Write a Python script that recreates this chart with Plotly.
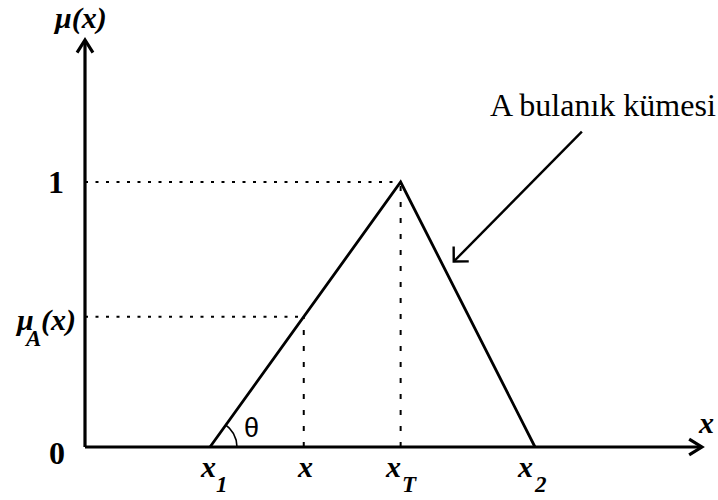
import numpy as np
import plotly.graph_objects as go

# Triangular membership function of the fuzzy set A
x1, xT, x2 = 2.0, 5.05, 7.2          # left foot, peak, right foot
peak_mu = 1.0
x_sample = 3.5                       # sample point x
x_axis_end, y_axis_end = 9.87, 1.536 # arrow tips of the axes
label_arrow_tail = (7.95, 1.19)      # "A bulanık kümesi" pointer
label_arrow_tip = (5.90, 0.70)

tri_x = [x1, xT, x2]
tri_y = [0.0, peak_mu, 0.0]


def mu(v):
    if v <= x1 or v >= x2:
        return 0.0
    if v <= xT:
        return (v - x1) / (xT - x1)
    return (x2 - v) / (x2 - xT)


mu_sample = mu(x_sample)

X_RANGE = [-1.36, 10.128]
Y_RANGE = [-0.2, 1.6868]
W, H = 718, 500
px_x = W / (X_RANGE[1] - X_RANGE[0])
px_y = H / (Y_RANGE[1] - Y_RANGE[0])

SERIF = "Liberation Serif"
fig = go.Figure()


def line(xs, ys, width, dash=None):
    fig.add_trace(go.Scatter(x=xs, y=ys, mode="lines",
                             line=dict(color="black", width=width, dash=dash),
                             hoverinfo="skip", showlegend=False))


def arrow(tail, tip, width, arm_px, half_angle_deg):
    """Shaft plus an open chevron head, with the head sized in screen pixels."""
    line([tail[0], tip[0]], [tail[1], tip[1]], width)
    dx = (tip[0] - tail[0]) * px_x
    dy = (tip[1] - tail[1]) * px_y
    n = np.hypot(dx, dy)
    ux, uy = dx / n, dy / n
    a = np.radians(half_angle_deg)
    xs, ys = [], []
    for s in (1, -1):
        c, si = np.cos(s * a), np.sin(s * a)
        rx, ry = ux * c - uy * si, ux * si + uy * c
        xs.append(tip[0] - arm_px * rx / px_x)
        ys.append(tip[1] - arm_px * ry / px_y)
    line([xs[0], tip[0], xs[1]], [ys[0], tip[1], ys[1]], width)


# axes
arrow((0, 0), (x_axis_end, 0), 3.2, 15, 32)
arrow((0, 0), (0, y_axis_end), 3.2, 15, 32)

# triangle
line(tri_x, tri_y, 2.8)

# dotted guide lines
H_DOT = "3px,7.5px"
V_DOT = "5px,11px"
line([0, xT], [peak_mu, peak_mu], 2, H_DOT)
line([xT, xT], [0, peak_mu], 2, V_DOT)
line([0, x_sample], [mu_sample, mu_sample], 2, H_DOT)
line([x_sample, x_sample], [0, mu_sample], 2, V_DOT)

# angle arc at the left foot (radius in screen pixels)
r_px = 27
theta_max = np.arctan2(peak_mu * px_y, (xT - x1) * px_x)
t = np.linspace(0, theta_max, 40)
line(x1 + r_px * np.cos(t) / px_x, r_px * np.sin(t) / px_y, 1.6)

# pointer to the fuzzy set
arrow(label_arrow_tail, label_arrow_tip, 2.4, 15, 45)

ann = []


def text(x, y, s, font, xanchor="center", yanchor="middle", dx=0, dy=0):
    ann.append(dict(x=x, y=y, xref="x", yref="y", text=s, showarrow=False,
                    xanchor=xanchor, yanchor=yanchor, xshift=dx, yshift=dy, font=font))


text(label_arrow_tail[0], label_arrow_tail[1], "A bulanık kümesi",
     dict(family=SERIF, size=32, color="black"), dx=21, dy=27)

lab_font = dict(family=SERIF, size=30, color="black", weight="bold", style="italic")
sub_font = dict(family=SERIF, size=23, color="black", weight="bold", style="italic")
num_font = dict(family=SERIF, size=32, color="black", weight="bold")

# y-axis labels
text(0, y_axis_end, "μ(x)", lab_font, dx=-5, dy=22)
text(0, peak_mu, "1", num_font, xanchor="right", dx=-19)
text(0, mu_sample, "(x)", lab_font, xanchor="right", dx=-7, dy=-3)
text(0, mu_sample, "μ", lab_font, xanchor="right", dx=-49, dy=-3)
text(0, mu_sample, "A", sub_font, dx=-53, dy=-22)
text(0, 0, "0", num_font, xanchor="right", dx=-18, dy=-6)

# x-axis labels: main letter and dropped subscript
x_labels = [(x1, "1", -2, 12), (x_sample, "", 1, 0), (xT, "T", -8, 9), (x2, "2", -10, 5)]
for xv, sub, dx_main, dx_sub in x_labels:
    text(xv, 0, "x", lab_font, yanchor="top", dx=dx_main, dy=-1)
    if sub:
        text(xv, 0, sub, sub_font, dx=dx_sub, dy=-37)
text(x_axis_end, 0, "x", lab_font, dx=4, dy=25)

# angle symbol
text(x1, 0, "θ", dict(family="Liberation Sans", size=27, color="black"), dx=41, dy=19)

fig.update_layout(
    width=W, height=H,
    margin=dict(l=0, r=0, t=0, b=0, pad=0),
    paper_bgcolor="white", plot_bgcolor="white",
    xaxis=dict(range=X_RANGE, visible=False, fixedrange=True),
    yaxis=dict(range=Y_RANGE, visible=False, fixedrange=True),
    annotations=ann,
    showlegend=False,
)

fig.write_html("out.html")
